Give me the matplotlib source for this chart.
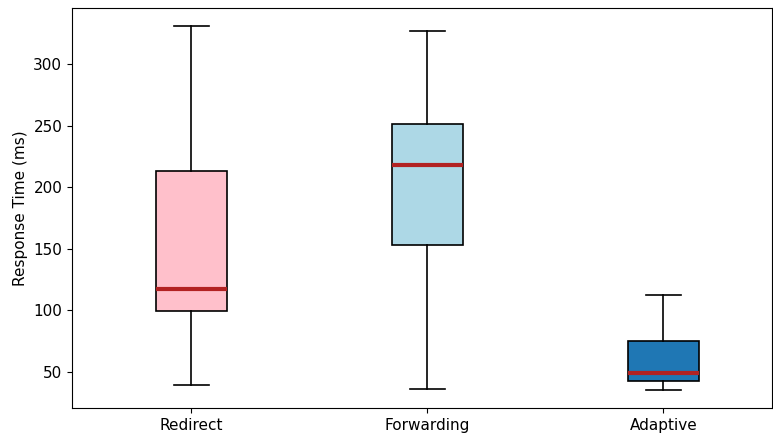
import matplotlib
matplotlib.use("Agg")
import matplotlib.pyplot as plt

categories = ["Redirect", "Forwarding", "Adaptive"]
whisker_low = [39.5, 36.2, 35.3]
q1 = [99.0, 152.7, 42.2]
median = [116.9, 217.8, 49.2]
q3 = [213.0, 251.2, 75.3]
whisker_high = [331.0, 327.0, 112.7]
colors = ["pink", "lightblue", "#1f77b4"]

stats = []
for i, name in enumerate(categories):
    stats.append(dict(label=name, whislo=whisker_low[i], q1=q1[i], med=median[i],
                      q3=q3[i], whishi=whisker_high[i], fliers=[]))

fig = plt.figure(figsize=(7.73, 4.36), dpi=100)
ax = fig.add_axes([72/773, 28/436, 700/773, 400/436])
bp = ax.bxp(stats, widths=0.3, patch_artist=True, showfliers=False,
            medianprops=dict(color="#b22222", linewidth=3),
            boxprops=dict(edgecolor="black", linewidth=1.2),
            whiskerprops=dict(linewidth=1.2),
            capprops=dict(linewidth=1.2))
for patch, c in zip(bp["boxes"], colors):
    patch.set_facecolor(c)
ax.set_xlim(0.495, 3.46)
ax.set_ylabel("Response Time (ms)", fontsize=11)
ax.tick_params(labelsize=11)
fig.savefig("out.png", dpi=100)
